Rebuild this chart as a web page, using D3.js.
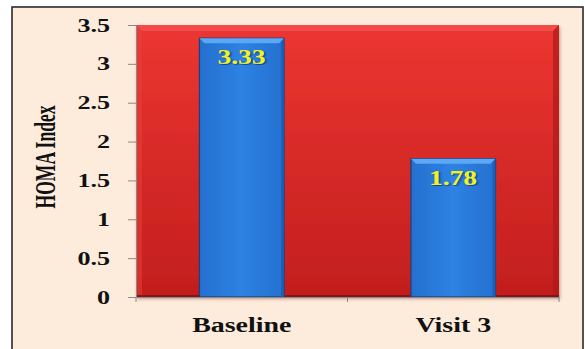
<!DOCTYPE html>
<html><head><meta charset="utf-8">
<script src="https://cdn.jsdelivr.net/npm/d3@7"></script>
<style>html,body{margin:0;padding:0;background:#fff;}svg{display:block;}</style>
</head><body>
<script>
const categories = ["Baseline", "Visit 3"];
const values = [3.33, 1.78];
const valueLabels = ["3.33", "1.78"];
const yTicks = [0, 0.5, 1, 1.5, 2, 2.5, 3, 3.5];
const yTickLabels = ["0", "0.5", "1", "1.5", "2", "2.5", "3", "3.5"];
const yTitle = "HOMA Index";

const W = 585, H = 349;
const svg = d3.select("body").append("svg").attr("width", W).attr("height", H);
const defs = svg.append("defs");
const FONT = "'Liberation Serif','Times New Roman',serif";

// background frame
svg.append("rect").attr("x", 12).attr("y", 7).attr("width", 571).attr("height", 345)
  .attr("fill", "#FDEBDC").attr("stroke", "#2a2a2a").attr("stroke-width", 1.6);

const x = d3.scaleBand().domain(categories).range([136, 559]).paddingInner(0.6).paddingOuter(0.3);
const y = d3.scaleLinear().domain([0, 3.5]).range([297, 25]);

// plot area gradient
const rg = defs.append("linearGradient").attr("id", "rg").attr("x1", 0).attr("y1", 0).attr("x2", 0).attr("y2", 1);
rg.append("stop").attr("offset", "0%").attr("stop-color", "#EC3631");
rg.append("stop").attr("offset", "100%").attr("stop-color", "#C21E1E");
const bg = defs.append("linearGradient").attr("id", "bg").attr("x1", 0).attr("y1", 0).attr("x2", 1).attr("y2", 0);
bg.append("stop").attr("offset", "0%").attr("stop-color", "#2470D0");
bg.append("stop").attr("offset", "50%").attr("stop-color", "#2D82E2");
bg.append("stop").attr("offset", "100%").attr("stop-color", "#2470D0");
const sh = defs.append("filter").attr("id", "sh").attr("x", "-5%").attr("y", "-5%").attr("width", "110%").attr("height", "115%");
sh.append("feDropShadow").attr("dx", 1).attr("dy", 2).attr("stdDeviation", 1.5).attr("flood-color", "#7a4a3a").attr("flood-opacity", 0.5);
const ts = defs.append("filter").attr("id", "ts");
ts.append("feDropShadow").attr("dx", 1).attr("dy", 1).attr("stdDeviation", 0.6).attr("flood-color", "#0a2a60").attr("flood-opacity", 0.7);

const px0 = x.range()[0], px1 = x.range()[1], py0 = y(3.5), py1 = y(0);
const b = 6;
svg.append("rect").attr("x", px0).attr("y", py0).attr("width", px1 - px0).attr("height", py1 - py0)
  .attr("fill", "url(#rg)").attr("filter", "url(#sh)");
// bevel edges
svg.append("polygon").attr("points", [[px0, py0], [px1, py0], [px1 - b, py0 + b], [px0 + b, py0 + b]].join(" "))
  .attr("fill", "#F2524C").attr("opacity", 0.8);
svg.append("polygon").attr("points", [[px1, py0], [px1, py1], [px1 - b, py1], [px1 - b, py0 + b]].join(" "))
  .attr("fill", "#B21818").attr("opacity", 0.7);
svg.append("polygon").attr("points", [[px0, py0], [px0 + b, py0 + b], [px0 + b, py1], [px0, py1]].join(" "))
  .attr("fill", "#E8403A").attr("opacity", 0.5);
svg.append("line").attr("x1", px0).attr("x2", px1).attr("y1", py1 - 1).attr("y2", py1 - 1)
  .attr("stroke", "#8a1212").attr("stroke-width", 2);

// bars
const bars = svg.append("g").selectAll("g").data(categories).join("g");
bars.each(function (c, i) {
  const g = d3.select(this);
  const bx = x(c), bw = x.bandwidth(), by = y(values[i]), bh = y(0) - y(values[i]);
  const e = 5;
  g.append("rect").attr("x", bx).attr("y", by).attr("width", bw).attr("height", bh)
    .attr("fill", "url(#bg)").attr("stroke", "#1E3F78").attr("stroke-width", 1.2);
  g.append("polygon").attr("points", [[bx, by], [bx + bw, by], [bx + bw - e, by + e], [bx + e, by + e]].join(" "))
    .attr("fill", "#5DA8F4");
  g.append("polygon").attr("points", [[bx + bw, by], [bx + bw, by + bh], [bx + bw - 3, by + bh], [bx + bw - 3, by + 3]].join(" "))
    .attr("fill", "#1B5BB0").attr("opacity", 0.8);
  g.append("text").attr("transform", `translate(${bx + bw / 2},${by + 26}) scale(1.37,1)`)
    .attr("text-anchor", "middle").attr("font-family", FONT).attr("font-weight", "bold")
    .attr("font-size", 20).attr("fill", "#F2F21E").attr("filter", "url(#ts)").text(valueLabels[i]);
});

// y axis
const yAxis = d3.axisLeft(y).tickValues(yTicks).tickFormat((d, i) => yTickLabels[i]).tickSize(8).tickSizeOuter(0);
const ya = svg.append("g").attr("transform", `translate(${px0},0)`).call(yAxis);
ya.select(".domain").attr("stroke", "#8a8a8a");
ya.selectAll(".tick line").attr("stroke", "#8a8a8a");
ya.selectAll(".tick text").attr("x", null).attr("dy", null)
  .attr("transform", "translate(-26,6) scale(1.45,1)")
  .attr("font-family", FONT).attr("font-weight", "bold").attr("font-size", 18).attr("fill", "#111");

// x axis
const xAxis = d3.axisBottom(x).tickSize(0).tickSizeOuter(0);
const xa = svg.append("g").attr("transform", `translate(0,${py1})`).call(xAxis);
xa.select(".domain").attr("stroke", "#8a8a8a");
xa.selectAll(".tick text").attr("y", null).attr("dy", null)
  .attr("transform", "translate(0,35) scale(1.33,1)")
  .attr("font-family", FONT).attr("font-weight", "bold").attr("font-size", 21).attr("fill", "#111");
// category boundary ticks
const bounds = [px0, (x(categories[0]) + x.bandwidth() + x(categories[1])) / 2, px1];
xa.selectAll(".bt").data(bounds).join("line").attr("class", "bt")
  .attr("x1", d => d).attr("x2", d => d).attr("y1", 0).attr("y2", 5).attr("stroke", "#8a8a8a");

// y title
svg.append("text").attr("transform", "translate(55,157) scale(1.75,1) rotate(-90)")
  .attr("text-anchor", "middle").attr("font-family", FONT).attr("font-weight", "bold")
  .attr("font-size", 17).attr("textLength", 103).attr("lengthAdjust", "spacingAndGlyphs")
  .attr("fill", "#111").text(yTitle);
</script>
</body></html>
